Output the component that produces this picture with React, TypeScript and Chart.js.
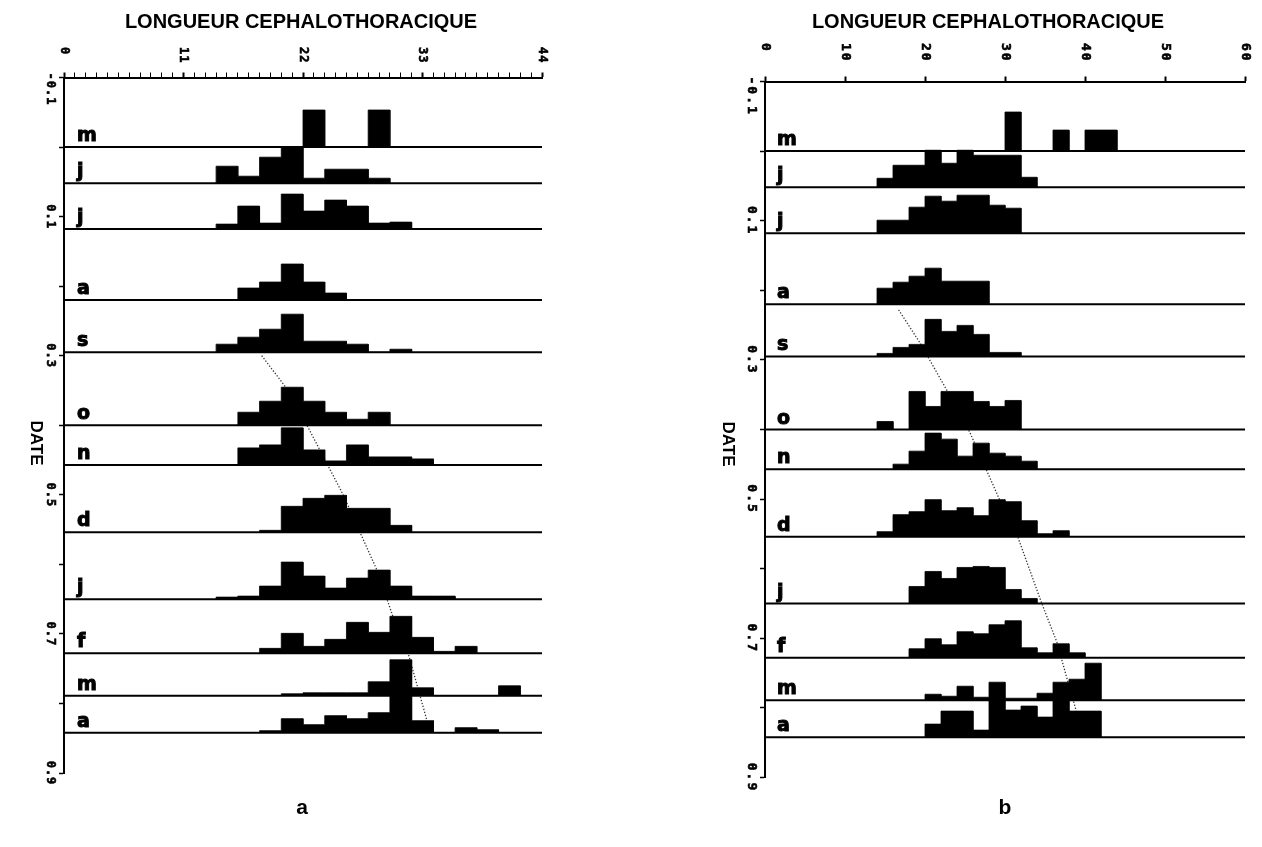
import React, { useEffect, useRef } from 'react';
import { Chart, registerables } from 'chart.js';

Chart.register(...registerables);

// ---------- DATA ----------
const MONTHS = ['m', 'j', 'j', 'a', 's', 'o', 'n', 'd', 'j', 'f', 'm', 'a'];
// baseline date (fraction of year) of each monthly histogram
const DATES = [0.0, 0.052, 0.118, 0.22, 0.295, 0.4, 0.457, 0.554, 0.65, 0.728, 0.789, 0.842];
const BIN_WIDTH = 2; // mm, class width of the length-frequency histograms

// Panel a : first class (mm) and frequencies of each month
const START_A = [22, 14, 14, 16, 14, 16, 16, 18, 14, 18, 20, 18];
const FREQ_A = [
  [37, 0, 0, 37],
  [17, 7, 26, 36, 5, 14, 14, 5],
  [5, 23, 6, 35, 18, 29, 23, 6, 7],
  [12, 18, 36, 18, 7],
  [8, 15, 23, 38, 11, 11, 8, 0, 3],
  [13, 24, 38, 24, 13, 6, 13],
  [17, 20, 37, 15, 4, 20, 8, 8, 6],
  [2, 26, 34, 37, 24, 24, 7],
  [2, 3, 13, 37, 23, 11, 21, 29, 13, 3, 3],
  [5, 20, 7, 14, 31, 21, 37, 16, 2, 7],
  [2, 3, 3, 3, 14, 36, 8, 0, 0, 0, 10],
  [2, 14, 8, 17, 14, 20, 37, 12, 0, 5, 3],
];

// Panel b
const START_B = [30, 14, 14, 14, 14, 14, 16, 14, 18, 18, 20, 20];
const FREQ_B = [
  [39, 0, 0, 21, 0, 21, 21],
  [9, 22, 22, 37, 24, 37, 32, 32, 32, 10],
  [13, 13, 26, 37, 32, 38, 38, 28, 25],
  [16, 22, 28, 36, 23, 23, 23],
  [3, 9, 12, 37, 25, 31, 22, 4, 4],
  [8, 0, 38, 23, 38, 38, 28, 23, 29],
  [5, 18, 36, 30, 13, 26, 16, 13, 8],
  [5, 22, 25, 37, 26, 29, 21, 37, 35, 16, 3, 6],
  [17, 32, 25, 36, 37, 36, 14, 5],
  [9, 19, 13, 26, 24, 33, 37, 10, 5, 14, 5],
  [6, 4, 14, 3, 18, 2, 2, 7, 18, 21, 37],
  [13, 26, 26, 7, 37, 27, 31, 20, 37, 26, 26],
];

// growth curves (dotted)
const GROWTH_A_LEN = [18.2, 20.3, 22.5, 25.7, 28.8, 30.3, 31.7, 33.4];
const GROWTH_A_DATE = [0.3, 0.343, 0.404, 0.5, 0.608, 0.676, 0.729, 0.824];
const GROWTH_B_LEN = [16.7, 19.4, 22.7, 25.6, 29.25, 31.65, 34.6, 36.5, 37.8, 38.9];
const GROWTH_B_DATE = [0.228, 0.276, 0.343, 0.404, 0.499, 0.556, 0.65, 0.706, 0.76, 0.804];

const X_TITLE = 'LONGUEUR CEPHALOTHORACIQUE';
const Y_TITLE = 'DATE';
const DATE_MIN = -0.1;
const DATE_MAX = 0.9;
const FREQ_SCALE = 1 / 695; // date units per frequency unit

// ---------- LAYOUT ----------
const H = 847;

type PanelCfg = {
  left: number; w: number;
  area: { left: number; top: number; right: number; bottom: number };
  xMax: number; xStep: number; xLabelEvery: number;
  start: number[]; freq: number[][];
  gLen: number[]; gDate: number[];
  titleX: number; titleY: number;
  dateX: number; dateY: number;
  letter: string; letterX: number; letterY: number;
  xLabelTop: number; yLabelX: number;
  tickFont: string; tickSpacing: string;
  monthX: number;
};

const PANEL_A: PanelCfg = {
  left: 0, w: 631,
  area: { left: 64, top: 77.5, right: 542, bottom: 773 },
  xMax: 44, xStep: 1, xLabelEvery: 11,
  start: START_A, freq: FREQ_A, gLen: GROWTH_A_LEN, gDate: GROWTH_A_DATE,
  titleX: 301, titleY: 22, dateX: 36, dateY: 443,
  letter: 'a', letterX: 302, letterY: 808,
  xLabelTop: 47, yLabelX: 50,
  tickFont: 'bold 12px "DejaVu Sans Mono", monospace', tickSpacing: '1px',
  monthX: 1.2,
};

const PANEL_B: PanelCfg = {
  left: 631, w: 631,
  area: { left: 134, top: 81.5, right: 614, bottom: 777.5 },
  xMax: 60, xStep: 10, xLabelEvery: 10,
  start: START_B, freq: FREQ_B, gLen: GROWTH_B_LEN, gDate: GROWTH_B_DATE,
  titleX: 357, titleY: 22, dateX: 97, dateY: 444,
  letter: 'b', letterX: 374, letterY: 808,
  xLabelTop: 43, yLabelX: 120,
  tickFont: 'bold 13px "DejaVu Sans Mono", monospace', tickSpacing: '2px',
  monthX: 1.5,
};

function histPoints(date: number, start: number, freqs: number[]) {
  const pts: { x: number; y: number }[] = [{ x: start, y: date }];
  freqs.forEach((f, i) => {
    const top = date - f * FREQ_SCALE;
    pts.push({ x: start + i * BIN_WIDTH, y: top });
    pts.push({ x: start + (i + 1) * BIN_WIDTH, y: top });
  });
  pts.push({ x: start + freqs.length * BIN_WIDTH, y: date });
  return pts;
}

function buildConfig(cfg: PanelCfg): any {
  const datasets: any[] = [];
  datasets.push({
    data: cfg.gLen.map((x, i) => ({ x, y: cfg.gDate[i] })),
    borderColor: '#333',
    borderWidth: 1.3,
    borderDash: [1.3, 1.8],
    pointRadius: 0,
    fill: false,
    tension: 0,
    order: 10,
  });
  DATES.forEach((d, i) => {
    datasets.push({
      data: histPoints(d, cfg.start[i], cfg.freq[i]),
      borderColor: '#000',
      backgroundColor: '#000',
      borderWidth: 0.8,
      pointRadius: 0,
      tension: 0,
      fill: { value: d },
      order: 2,
    });
    datasets.push({
      data: [{ x: 0, y: d }, { x: cfg.xMax, y: d }],
      borderColor: '#000',
      borderWidth: 2,
      pointRadius: 0,
      fill: false,
      order: 1,
    });
  });

  const isMajorX = (v: number) => Math.abs(v % cfg.xLabelEvery) < 1e-6;
  const isMajorY = (v: number) => Math.abs(Math.round(v * 10)) % 2 === 1;

  const textPlugin = {
    id: 'texts',
    afterDraw(chart: any) {
      const ctx = chart.ctx as CanvasRenderingContext2D;
      const xs = chart.scales.x;
      const ys = chart.scales.y;
      ctx.save();
      ctx.fillStyle = '#000';
      ctx.strokeStyle = '#000';
      // axis title
      ctx.font = 'bold 20px "Liberation Sans", Arial, sans-serif';
      ctx.textAlign = 'center';
      ctx.textBaseline = 'middle';
      ctx.fillText(X_TITLE, cfg.titleX, cfg.titleY);
      // panel letter
      ctx.font = 'bold 21px "Liberation Sans", Arial, sans-serif';
      ctx.fillText(cfg.letter, cfg.letterX, cfg.letterY);
      // DATE title (rotated clockwise)
      ctx.save();
      ctx.font = 'bold 17px "Liberation Sans", Arial, sans-serif';
      ctx.translate(cfg.dateX, cfg.dateY);
      ctx.rotate(Math.PI / 2);
      ctx.fillText(Y_TITLE, 0, 0);
      ctx.restore();
      // tick labels
      ctx.font = cfg.tickFont;
      ctx.lineWidth = 0.6;
      (ctx as any).letterSpacing = cfg.tickSpacing;
      xs.ticks.forEach((t: any) => {
        if (!isMajorX(t.value)) return;
        const px = xs.getPixelForValue(t.value);
        const label = String(Math.round(t.value));
        ctx.save();
        ctx.translate(px, cfg.xLabelTop);
        ctx.rotate(Math.PI / 2);
        ctx.textAlign = 'left';
        ctx.textBaseline = 'middle';
        ctx.fillText(label, 0, 0);
        ctx.strokeText(label, 0, 0);
        ctx.restore();
      });
      ys.ticks.forEach((t: any) => {
        if (!isMajorY(t.value)) return;
        const label = t.value.toFixed(1);
        const w = ctx.measureText(label).width;
        const py = Math.max(ys.getPixelForValue(t.value), ys.top - 5 + w / 2);
        ctx.save();
        ctx.translate(cfg.yLabelX, py);
        ctx.rotate(Math.PI / 2);
        ctx.textAlign = 'center';
        ctx.textBaseline = 'middle';
        ctx.fillText(label, 0, 0);
        ctx.strokeText(label, 0, 0);
        ctx.restore();
      });
      (ctx as any).letterSpacing = '0px';
      // month letters
      ctx.font = 'bold 19px "DejaVu Sans", sans-serif';
      ctx.textAlign = 'left';
      ctx.textBaseline = 'alphabetic';
      ctx.lineWidth = 1;
      MONTHS.forEach((m, i) => {
        const x = xs.getPixelForValue(cfg.monthX);
        const y = ys.getPixelForValue(DATES[i]) - 6;
        ctx.fillText(m, x, y);
        ctx.strokeText(m, x, y);
      });
      ctx.restore();
    },
  };

  return {
    type: 'line',
    data: { datasets },
    options: {
      animation: false,
      responsive: false,
      events: [],
      layout: {
        padding: { left: 0, top: 0, right: cfg.w - cfg.area.right, bottom: H - cfg.area.bottom },
      },
      plugins: {
        legend: { display: false },
        tooltip: { enabled: false },
        filler: { propagate: false },
      },
      scales: {
        x: {
          type: 'linear',
          position: 'top',
          min: 0,
          max: cfg.xMax,
          ticks: { stepSize: cfg.xStep, display: false, autoSkip: false },
          grid: {
            drawOnChartArea: false,
            drawTicks: true,
            tickLength: 5,
            tickColor: '#000',
            tickWidth: (c: any) => (isMajorX(c.tick.value) ? 2 : 1),
          },
          border: { display: true, color: '#000', width: 2 },
          afterFit: (s: any) => { s.height = cfg.area.top; },
        },
        y: {
          type: 'linear',
          reverse: true,
          min: DATE_MIN,
          max: DATE_MAX,
          ticks: { stepSize: 0.1, display: false, autoSkip: false },
          grid: {
            drawOnChartArea: false,
            drawTicks: true,
            tickLength: 5,
            tickColor: '#000',
            tickWidth: 1.5,
          },
          border: { display: true, color: '#000', width: 2 },
          afterFit: (s: any) => { s.width = cfg.area.left; },
        },
      },
    },
    plugins: [textPlugin],
  };
}

function Panel({ cfg }: { cfg: PanelCfg }) {
  const ref = useRef<HTMLCanvasElement>(null);
  useEffect(() => {
    const chart = new Chart(ref.current as HTMLCanvasElement, buildConfig(cfg));
    return () => chart.destroy();
  }, [cfg]);
  return (
    <canvas
      ref={ref}
      width={cfg.w}
      height={H}
      style={{ position: 'absolute', left: cfg.left, top: 0, width: cfg.w, height: H }}
    />
  );
}

export default function App() {
  return (
    <div style={{ position: 'absolute', left: 0, top: 0, width: 1262, height: H, background: '#fff', overflow: 'hidden' }}>
      <Panel cfg={PANEL_A} />
      <Panel cfg={PANEL_B} />
    </div>
  );
}
